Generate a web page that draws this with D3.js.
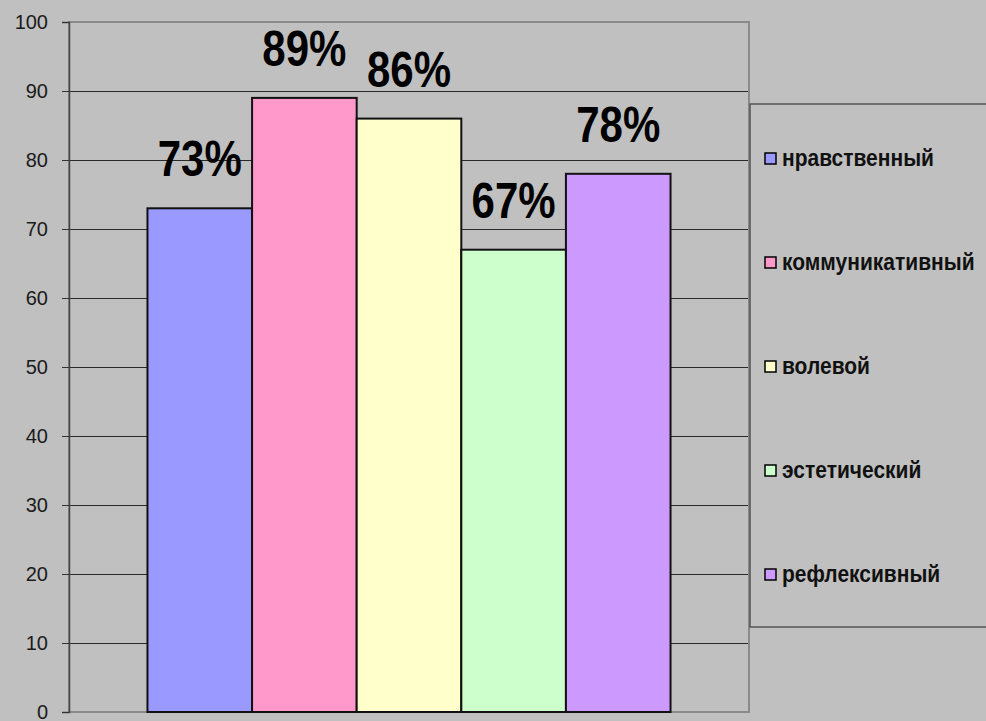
<!DOCTYPE html>
<html><head><meta charset="utf-8">
<script src="https://cdn.jsdelivr.net/npm/d3@7"></script>
<style>body{margin:0;background:#c0c0c0;} svg{display:block;}</style>
</head><body>
<svg id="chart" width="986" height="721"></svg>
<script>
const categories = ["нравственный","коммуникативный","волевой","эстетический","рефлексивный"];
const values = [73, 89, 86, 67, 78];
const colors = ["#9999FF","#FF99CC","#FFFFCC","#CCFFCC","#CC99FF"];
const yTicks = [0,10,20,30,40,50,60,70,80,90,100];

const svg = d3.select("#chart");
const W = 986, H = 721;
const plot = {left: 69, right: 749, top: 22, bottom: 712};

svg.append("rect").attr("width", W).attr("height", H).attr("fill", "#c0c0c0");

const x = d3.scaleBand().domain(categories).range([plot.left, plot.right]).paddingInner(0).paddingOuter(0.75);
const y = d3.scaleLinear().domain([0, 100]).range([plot.bottom, plot.top]);

// gridlines
svg.append("g").selectAll("line").data(yTicks.filter(d => d > 0 && d < 100)).join("line")
  .attr("x1", plot.left).attr("x2", plot.right)
  .attr("y1", d => Math.round(y(d)) + 0.5).attr("y2", d => Math.round(y(d)) + 0.5)
  .attr("stroke", "#2a2a2a").attr("stroke-width", 1);

// plot border
svg.append("rect").attr("x", plot.left).attr("y", plot.top)
  .attr("width", plot.right - plot.left).attr("height", plot.bottom - plot.top)
  .attr("fill", "none").attr("stroke", "#8a8a8a").attr("stroke-width", 2);

// y axis
const yAxis = d3.axisLeft(y).tickValues(yTicks).tickSize(7).tickPadding(14);
const ga = svg.append("g").attr("transform", `translate(${plot.left},0)`).call(yAxis);
ga.select(".domain").attr("stroke", "#444").attr("stroke-width", 1.5);
ga.selectAll(".tick line").attr("stroke", "#333");
ga.selectAll(".tick text").attr("font-family", "Arial, 'Liberation Sans', sans-serif")
  .attr("font-size", 20).attr("fill", "#1a1a1a");

// bars
svg.append("g").selectAll("rect").data(values).join("rect")
  .attr("x", (d, i) => x(categories[i]))
  .attr("y", d => y(d))
  .attr("width", x.bandwidth())
  .attr("height", d => y(0) - y(d))
  .attr("fill", (d, i) => colors[i])
  .attr("stroke", "#111").attr("stroke-width", 2);

// value labels
svg.append("g").selectAll("text").data(values).join("text")
  .attr("transform", (d, i) => `translate(${x(categories[i]) + x.bandwidth()/2},${y(d) - 32}) scale(1,1.2)`)
  .attr("text-anchor", "middle")
  .attr("font-family", "Arial, 'Liberation Sans', sans-serif")
  .attr("font-weight", "bold").attr("font-size", 42).attr("fill", "#000")
  .text(d => d + "%");

// legend
const lg = svg.append("g");
lg.append("rect").attr("x", 750).attr("y", 104).attr("width", 240).attr("height", 523)
  .attr("fill", "#c0c0c0").attr("stroke", "#555").attr("stroke-width", 1.5);
const legendY = d3.scalePoint().domain(categories).range([158, 574]);
const items = lg.selectAll("g.item").data(categories).join("g").attr("class", "item")
  .attr("transform", d => `translate(765,${legendY(d)})`);
items.append("rect").attr("x", 0).attr("y", -5).attr("width", 11).attr("height", 11)
  .attr("fill", (d, i) => colors[i]).attr("stroke", "#000").attr("stroke-width", 1.5);
items.append("text").attr("transform", "translate(17,7.5) scale(1,1.12)")
  .attr("font-family", "Arial, 'Liberation Sans', sans-serif")
  .attr("font-weight", "bold").attr("font-size", 21).attr("fill", "#111")
  .text(d => d);
</script>
</body></html>
